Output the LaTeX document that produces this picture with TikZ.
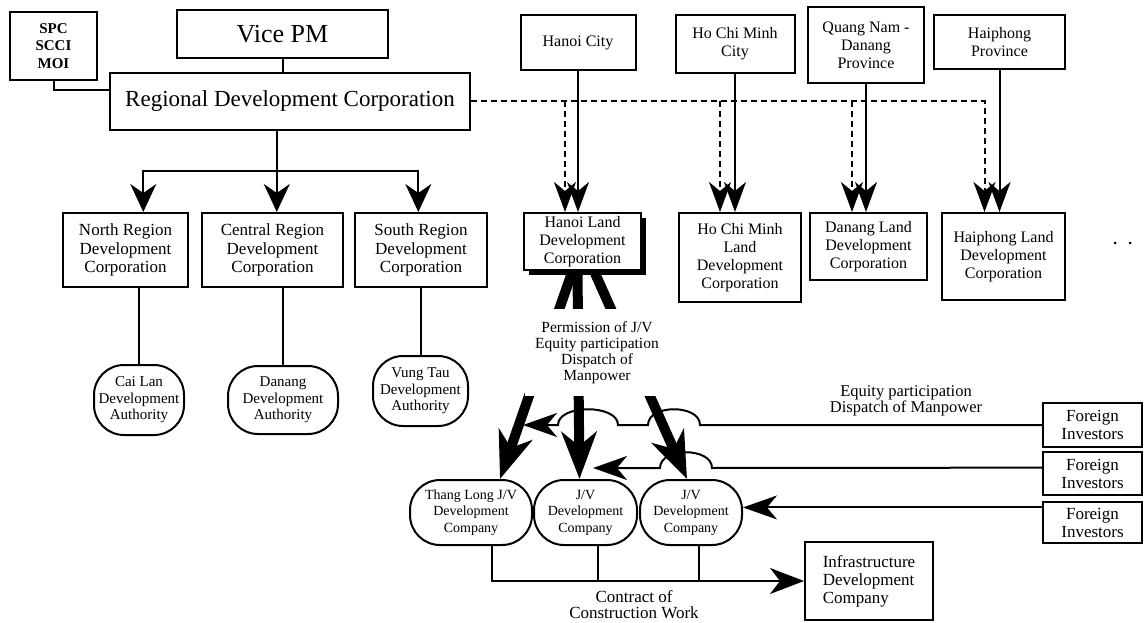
\documentclass[tikz,border=0pt]{standalone}
\usepackage{fontspec}
\setmainfont{Liberation Serif}
\usetikzlibrary{arrows.meta,calc,shadows}
\newcommand\fsz[2]{\fontsize{#1pt}{#2pt}\selectfont}
\begin{document}
\begin{tikzpicture}[x=1pt,y=-1pt,
  box/.style={draw,line width=2pt,inner sep=0pt,align=center,font=\fsz{16}{18}},
  oval/.style={draw,line width=2pt,inner sep=0pt,align=center,rounded corners=30pt},
  conn/.style={line width=2pt},
  arr/.style={line width=2pt,-{Stealth[length=28pt,width=26pt,inset=9pt]}},
  landarr/.style={line width=2pt,-{Stealth[length=30pt,width=22pt,inset=9pt]}},
  dsh/.style={line width=2pt,dash pattern=on 6pt off 4pt},
  bigarr/.style={line width=10pt,-{Stealth[length=47pt,width=35pt,inset=14pt]}},
  farr/.style={line width=2pt,-{Stealth[length=34pt,width=24pt,inset=10pt]}},
  lbl/.style={align=center,inner sep=1pt,font=\fsz{15.5}{16}}
]
\useasboundingbox (0,0) rectangle (1144,623);

% top level
\node[box,font={\bfseries\fsz{15}{17.5}},minimum width=87pt,minimum height=68pt] (spc) at (53.5,46) {SPC\\SCCI\\MOI};
\node[box,font=\fsz{26}{28},minimum width=211pt,minimum height=48pt] (vice) at (282.5,34) {Vice PM};
\node[box,font=\fsz{23}{26},minimum width=360pt,minimum height=57pt] (rdc) at (290,101.5) {Regional Development Corporation};

% regions
\node[box,font=\fsz{17}{18.5},minimum width=125pt,minimum height=74pt] (north) at (125.5,250) {North Region\\Development\\Corporation};
\node[box,font=\fsz{17}{18.5},minimum width=141pt,minimum height=74pt] (central) at (272.5,250) {Central Region\\Development\\Corporation};
\node[box,font=\fsz{17}{18.5},minimum width=132pt,minimum height=74pt] (south) at (421,250) {South Region\\Development\\Corporation};

% authorities
\node[oval,font=\fsz{15}{16.5},minimum width=90pt,minimum height=70pt] (cailan) at (139,400) {Cai Lan\\Development\\Authority};
\node[oval,font=\fsz{15}{16.5},minimum width=110pt,minimum height=68pt] (danangA) at (283,400) {Danang\\Development\\Authority};
\node[oval,font=\fsz{15}{16.5},minimum width=95pt,minimum height=70pt] (vungtau) at (420.5,391) {Vung Tau\\Development\\Authority};

% cities
\node[box,minimum width=115pt,minimum height=55pt] (hanoiC) at (578,42.5) {Hanoi City};
\node[box,minimum width=119pt,minimum height=58pt] (hcmC) at (735,44) {Ho Chi Minh\\City};
\node[box,line width=2.8pt,minimum width=116pt,minimum height=76pt] (quangnam) at (866,45) {Quang Nam -\\Danang\\Province};
\node[box,minimum width=131pt,minimum height=54pt] (haiphongP) at (999.5,42) {Haiphong\\Province};

% land corporations
\node[box,fill=white,drop shadow={shadow xshift=5pt,shadow yshift=-5pt,opacity=1,fill=black},minimum width=117pt,minimum height=57pt] (hanoiL) at (582.5,241.5) {Hanoi Land\\Development\\Corporation};
\node[box,minimum width=122pt,minimum height=89pt] (hcmL) at (740,257.5) {Ho Chi Minh\\Land\\Development\\Corporation};
\node[box,minimum width=117pt,minimum height=67pt] (danangL) at (868.5,246.5) {Danang Land\\Development\\Corporation};
\node[box,minimum width=123pt,minimum height=87pt] (haiphongL) at (1003.5,256.5) {Haiphong Land\\Development\\Corporation};

% J/V companies
\node[oval,font=\fsz{14}{16.5},minimum width=122pt,minimum height=65pt] (tl) at (471,512.5) {Thang Long J/V\\Development\\Company};
\node[oval,font=\fsz{14}{16.5},minimum width=103pt,minimum height=65pt] (jv1) at (585.5,512.5) {J/V\\Development\\Company};
\node[oval,font=\fsz{14}{16.5},minimum width=102pt,minimum height=65pt] (jv2) at (691,512.5) {J/V\\Development\\Company};

% foreign investors and infrastructure
\node[box,font=\fsz{17}{18},minimum width=99pt,minimum height=44pt] (f1) at (1092.5,425) {Foreign\\Investors};
\node[box,font=\fsz{17}{18},minimum width=99pt,minimum height=43pt] (f2) at (1092.5,473.5) {Foreign\\Investors};
\node[box,font=\fsz{17}{18},minimum width=99pt,minimum height=41pt] (f3) at (1092.5,522.5) {Foreign\\Investors};
\node[box,font=\fsz{17}{18},align=left,minimum width=128pt,minimum height=78pt] (infra) at (869,581) {Infrastructure\\Development\\Company};

% top connectors
\draw[conn] (vice.south) -- (vice.south |- rdc.north);
\draw[conn] (spc.south) |- ($(rdc.north west)!0.3!(rdc.south west)$);

\coordinate (nTop) at ($(north.north west)!0.64!(north.north east)$);
\coordinate (cTop) at ($(central.north west)!0.53!(central.north east)$);
\coordinate (sTop) at ($(south.north west)!0.48!(south.north east)$);
\coordinate (bar) at ($(rdc.south -| cTop)!0.5!(cTop)$);
\draw[conn] (rdc.south -| cTop) -- (bar);
\draw[arr] (bar) -- (cTop);
\draw[arr] (bar) -| (nTop);
\draw[arr] (bar) -| (sTop);

\draw[conn] (cailan.north |- north.south) -- (cailan.north);
\draw[conn] (danangA.north |- central.south) -- (danangA.north);
\draw[conn] (vungtau.north |- south.south) -- (vungtau.north);

% dashed links from RDC
\coordinate (dH) at ($(hanoiC.south)+(-13,0)$);
\coordinate (dC) at ($(hcmC.south)+(-15,0)$);
\coordinate (dQ) at ($(quangnam.south)+(-14,0)$);
\coordinate (dP) at ($(haiphongP.south)+(-15,0)$);
\draw[dsh,-{Stealth[length=30pt,width=22pt,inset=9pt]}] (rdc.east) -| (dP |- haiphongL.north);
\draw[dsh,-{Stealth[length=30pt,width=22pt,inset=9pt]}] (rdc.east -| dH) -- (dH |- hanoiL.north);
\draw[dsh,-{Stealth[length=30pt,width=22pt,inset=9pt]}] (rdc.east -| dC) -- (dC |- hcmL.north);
\draw[dsh,-{Stealth[length=30pt,width=22pt,inset=9pt]}] (rdc.east -| dQ) -- (dQ |- danangL.north);

% city links
\draw[landarr] (hanoiC.south) -- (hanoiC.south |- hanoiL.north);
\draw[landarr] (hcmC.south) -- (hcmC.south |- hcmL.north);
\draw[landarr] (quangnam.south) -- (quangnam.south |- danangL.north);
\draw[landarr] (haiphongP.south) -- (haiphongP.south |- haiphongL.north);

% thick arrows from Hanoi Land
\draw[bigarr] ($(hanoiL.south)+(-10,0)$) -- ($(tl.north)+(29,0)$);
\draw[bigarr] ($(hanoiL.south)+(-5,0)$) -- ($(jv1.north)+(-6,0)$);
\draw[bigarr] ($(hanoiL.south)+(11.5,0)$) -- ($(jv2.north)+(-4,0)$);
\node[lbl,fill=white,inner xsep=10pt,inner ysep=12pt] (perm) at (597,352.5) {Permission of J/V\\Equity participation\\Dispatch of\\Manpower};

% foreign investor arrows
\coordinate (ft1) at (523,425);
\coordinate (fs2) at ($(f2.north west)!0.37!(f2.south west)$);
\coordinate (ft2) at (593,468);
\coordinate (fs3) at ($(f3.north west)!0.15!(f3.south west)$);
\draw[farr] (f1.west) -- (700,425) .. controls (700,404) and (648,404) .. (648,425) -- (618,425) .. controls (618,404) and (558,404) .. (558,425) -- (ft1);
\draw[farr] (fs2) -- (712,468) .. controls (712,447) and (660,447) .. (660,468) -- (ft2);
\draw[farr] (fs3) -- (fs3 -| jv2.east);
\node[lbl,font=\fsz{16.5}{14.5}] (eq) at (906,401) {Equity participation\\Dispatch of Manpower};

% contract
\coordinate (b1) at ($(tl.south)+(21,0)$);
\coordinate (b2) at ($(jv1.south)+(12.5,0)$);
\coordinate (b3) at ($(jv2.south)+(8,0)$);
\draw[line width=2pt,-{Stealth[length=34pt,width=26pt,inset=10pt]}] (b1) |- (infra.west);
\draw[conn] (b2) -- (b2 |- infra.west);
\draw[conn] (b3) -- (b3 |- infra.west);
\node[lbl,font=\fsz{17}{16}] (contract) at (634,605) {Contract of\\Construction Work};

% specks
\fill (1115,243) circle (1.5);
\fill (1130,243) circle (1.5);
\end{tikzpicture}
\end{document}
